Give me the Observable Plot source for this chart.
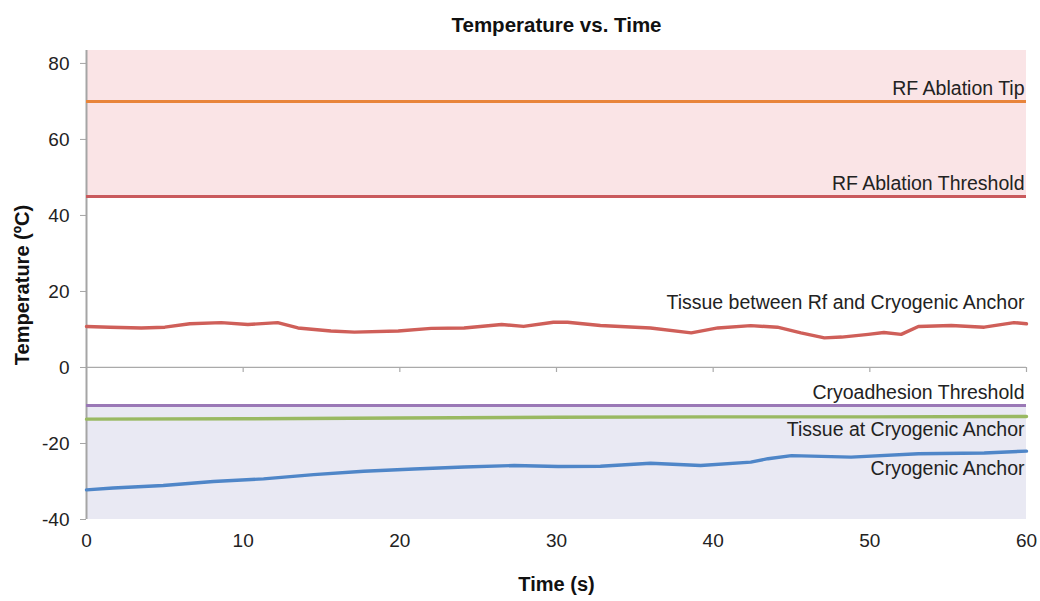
<!DOCTYPE html>
<html>
<head>
<meta charset="utf-8">
<script src="https://cdn.jsdelivr.net/npm/d3@7"></script>
<script src="https://cdn.jsdelivr.net/npm/@observablehq/plot@0.6"></script>
<style>
  html, body { margin: 0; padding: 0; background: #fff; overflow: hidden; }
  #chart svg { display: block; }
</style>
</head>
<body>
<div id="chart"></div>
<script>
// ---- Data ----
const xTicks = [0, 10, 20, 30, 40, 50, 60];
const yTicks = [-40, -20, 0, 20, 40, 60, 80];

const thresholdNames = ["RF Ablation Tip", "RF Ablation Threshold", "Cryoadhesion Threshold"];
const thresholdValues = [70, 45, -10];

const zoneNames = ["RF ablation zone", "Cryoadhesion zone"];
const zoneLow = [45, -40];
const zoneHigh = [83.4, -10];

const tissueTime = [0, 1.5, 3.5, 5, 6.6, 8.6, 10.3, 12.2, 13.5, 15.6, 17.1, 19.9, 22, 24.1, 26.5, 27.9, 29.8, 30.7, 32.8, 36, 38.6, 40.3, 42.4, 44.1, 45.6, 47.1, 48.2, 49.9, 50.9, 52, 53.1, 55.2, 57.3, 59.2, 60];
const tissueTemp = [10.8, 10.6, 10.4, 10.6, 11.5, 11.8, 11.3, 11.8, 10.4, 9.6, 9.3, 9.6, 10.3, 10.4, 11.3, 10.8, 11.9, 11.9, 11.05, 10.4, 9.1, 10.4, 11.0, 10.6, 9.1, 7.8, 8.0, 8.7, 9.2, 8.7, 10.8, 11.05, 10.6, 11.8, 11.5];

const anchorTissueTime = [0, 10, 20, 30, 40, 50, 60];
const anchorTissueTemp = [-13.6, -13.5, -13.3, -13.1, -13.0, -13.0, -12.9];

const cryoTime = [0, 1.7, 4.9, 8.1, 11.3, 14.5, 17.7, 20.9, 24.1, 27.3, 30.1, 32.8, 36, 39.2, 42.4, 43.5, 45, 48.8, 53.1, 57.3, 60];
const cryoTemp = [-32.2, -31.7, -31.05, -30.0, -29.3, -28.2, -27.3, -26.7, -26.2, -25.8, -26.05, -26.0, -25.2, -25.8, -24.9, -24.0, -23.2, -23.6, -22.7, -22.5, -22.0];

const seriesNames = ["Tissue between Rf and Cryogenic Anchor", "Tissue at Cryogenic Anchor", "Cryogenic Anchor"];

// ---- Build tables ----
const toRows = (ts, vs) => ts.map((t, i) => ({t, v: vs[i]}));
const tissue = toRows(tissueTime, tissueTemp);
const anchorTissue = toRows(anchorTissueTime, anchorTissueTemp);
const cryo = toRows(cryoTime, cryoTemp);
const zones = zoneNames.map((n, i) => ({name: n, lo: zoneLow[i], hi: zoneHigh[i]}));
const thresholds = thresholdNames.map((n, i) => ({name: n, v: thresholdValues[i]}));

const thresholdColors = ["#e8843b", "#c95a5d", "#9a78b6"];
const zoneColors = ["#fae4e6", "#e9e9f3"];
const seriesColors = ["#cf5f59", "#99b962", "#4f86c8"];

const xMax = xTicks[xTicks.length - 1];
const font = "'Liberation Sans', Arial, Helvetica, sans-serif";
const last = a => a[a.length - 1];

const labelStyle = {textAnchor: "end", dx: -2, fill: "#222", fontSize: 19.5};

const chart = Plot.plot({
  width: 1040,
  height: 601,
  marginLeft: 86,
  marginRight: 14,
  marginTop: 50,
  marginBottom: 82,
  style: {fontFamily: font, fontSize: "19px", color: "#222", background: "#fff"},
  x: {domain: [0, xMax], ticks: xTicks},
  y: {domain: [-40, 83.4], ticks: yTicks},
  marks: [
    Plot.rect(zones, {x1: () => 0, x2: () => xMax, y1: "lo", y2: "hi", fill: (d, i) => zoneColors[i]}),
    Plot.ruleY([0], {stroke: "#aaaaaa", strokeWidth: 1.2}),
    Plot.ruleX(xTicks.slice(1), {x: d => d, y1: () => 0, y2: () => 0, insetBottom: -5, stroke: "#aaaaaa", strokeWidth: 1.2}),
    Plot.ruleX([0], {stroke: "#a5a5a5", strokeWidth: 2}),
    Plot.axisY({ticks: yTicks, tickFormat: d => String(d), tickSize: 6, tickPadding: 11, stroke: "#a5a5a5", label: null, fontSize: 19}),
    Plot.axisX({ticks: xTicks, tickFormat: d => String(d), tickSize: 0, tickPadding: 14, label: null, fontSize: 19}),
    Plot.ruleY(thresholds, {y: "v", stroke: (d, i) => thresholdColors[i], strokeWidth: 3}),
    Plot.line(tissue, {x: "t", y: "v", stroke: seriesColors[0], strokeWidth: 3.4}),
    Plot.line(anchorTissue, {x: "t", y: "v", stroke: seriesColors[1], strokeWidth: 3.4}),
    Plot.line(cryo, {x: "t", y: "v", stroke: seriesColors[2], strokeWidth: 3.4}),
    Plot.text(thresholds, {x: () => xMax, y: "v", text: "name", dy: -13, ...labelStyle}),
    Plot.text([seriesNames[0]], {x: () => xMax, y: () => last(tissueTemp), text: d => d, dy: -21, ...labelStyle}),
    Plot.text([seriesNames[1]], {x: () => xMax, y: () => last(anchorTissueTemp), text: d => d, dy: 13, ...labelStyle}),
    Plot.text([seriesNames[2]], {x: () => xMax, y: () => last(cryoTemp), text: d => d, dy: 18, ...labelStyle}),
    Plot.text(["Temperature vs. Time"], {frameAnchor: "top", dy: -33, fontWeight: "bold", fontSize: 20.5, fill: "#111"}),
    Plot.text(["Time (s)"], {frameAnchor: "bottom", dy: 71, fontWeight: "bold", fontSize: 20, fill: "#111"}),
    Plot.text(["Temperature (ºC)"], {frameAnchor: "left", textAnchor: "middle", dx: -64, rotate: -90, fontWeight: "bold", fontSize: 20, fill: "#111"})
  ]
});

document.getElementById("chart").appendChild(chart);
</script>
</body>
</html>
